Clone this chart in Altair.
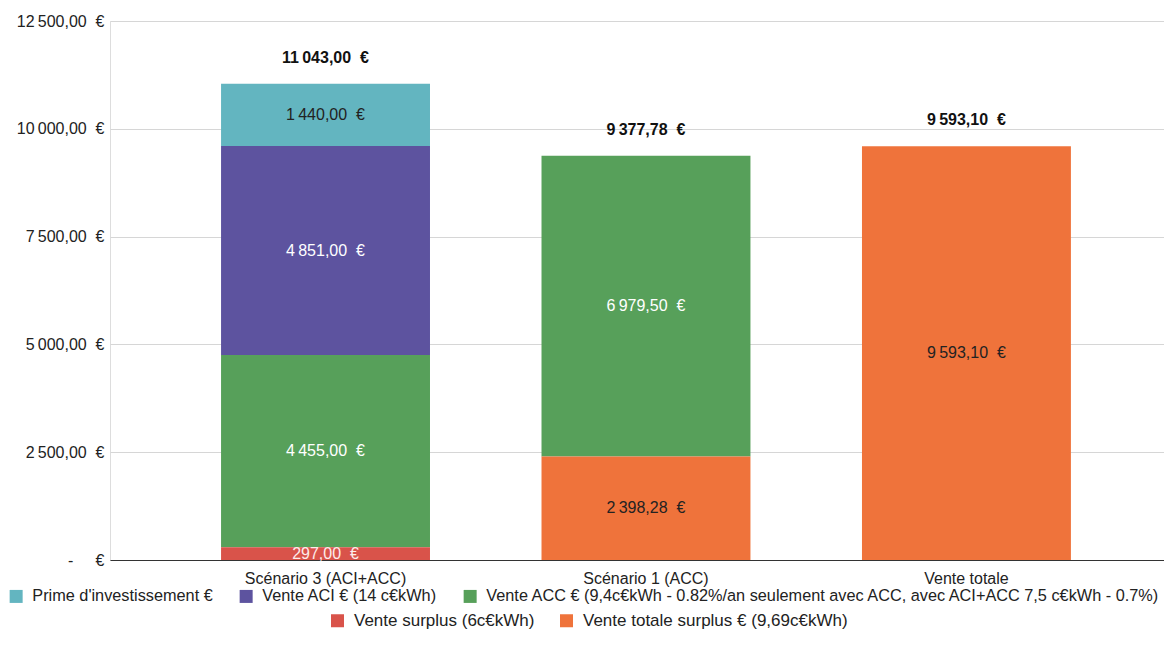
import altair as alt
import pandas as pd

scenarios = ["Scénario 3 (ACI+ACC)", "Scénario 1 (ACC)", "Vente totale"]
series = [
    "Prime d'investissement €",
    "Vente ACI € (14 c€kWh)",
    "Vente ACC € (9,4c€kWh - 0.82%/an seulement avec ACC, avec ACI+ACC 7,5 c€kWh - 0.7%)",
    "Vente surplus (6c€kWh)",
    "Vente totale surplus € (9,69c€kWh)",
]
colors = ["#63b5c0", "#5d539f", "#57a05a", "#d9534a", "#ef733b"]
label_colors = ["#222222", "#ffffff", "#ffffff", "#fdecea", "#222222"]

prime = [1440.00, None, None]
aci = [4851.00, None, None]
acc = [4455.00, 6979.50, None]
surplus = [297.00, None, None]
totale = [None, 2398.28, 9593.10]
y_ticks = [0, 2500, 5000, 7500, 10000, 12500]

FONT = "Liberation Sans"


def fmt(v):
    return f"{v:,.2f}".replace(",", "\u202f").replace(".", ",") + "\u00a0\u00a0€"


rows = []
for si, vals in enumerate([prime, aci, acc, surplus, totale]):
    for sc, v in zip(scenarios, vals):
        if v is None:
            continue
        rows.append({
            "scenario": sc,
            "series": series[si],
            "value": v,
            "rank": len(series) - si,
            "label": fmt(v),
            "tcolor": label_colors[si],
        })
df = pd.DataFrame(rows)

x_enc = alt.X(
    "scenario:N",
    sort=scenarios,
    title=None,
    scale=alt.Scale(paddingInner=0.348, paddingOuter=0.3185, align=0.544),
    axis=alt.Axis(labelAngle=0, labelFontSize=16, labelFont=FONT, labelColor="#222222",
                  domainColor="#333333", ticks=False, labelPadding=10),
)
y_scale = alt.Scale(domain=[0, 12500], nice=False)
y_axis = alt.Axis(
    values=y_ticks, title=None, domain=False, ticks=False, labelPadding=6,
    labelFontSize=16, labelFont=FONT, labelColor="#222222",
    gridColor="#d6d6d6",
    labelExpr="datum.value == 0 ? '-\u00a0\u00a0\u00a0\u00a0\u00a0€' : replace(replace(format(datum.value, ',.2f'), ',', '\u202f'), '.', ',') + '\u00a0\u00a0€'",
)

base = alt.Chart(df)

bars = base.mark_bar().encode(
    x=x_enc,
    y=alt.Y("value:Q", stack="zero", scale=y_scale, axis=y_axis),
    color=alt.Color("series:N", scale=alt.Scale(domain=series, range=colors), legend=None),
    order=alt.Order("rank:Q", sort="ascending"),
)

seg_text = base.transform_stack(
    stack="value", groupby=["scenario"], sort=[alt.SortField("rank", order="ascending")], as_=["y0", "y1"]
).transform_calculate(
    mid="(datum.y0 + datum.y1) / 2"
).mark_text(fontSize=16, font=FONT, baseline="middle").encode(
    x=alt.X("scenario:N", sort=scenarios),
    y=alt.Y("mid:Q"),
    text="label:N",
    color=alt.Color("tcolor:N", scale=None),
)

tot_text = base.transform_aggregate(
    total="sum(value)", groupby=["scenario"]
).transform_calculate(
    tlabel="replace(replace(format(datum.total, ',.2f'), ',', '\u202f'), '.', ',') + '\u00a0\u00a0€'"
).mark_text(fontSize=16, font=FONT, fontWeight="bold", baseline="middle", dy=-26, color="#111111").encode(
    x=alt.X("scenario:N", sort=scenarios),
    y=alt.Y("total:Q"),
    text="tlabel:N",
)

legend_common = dict(
    orient="none", direction="horizontal", title=None,
    labelFont=FONT, labelColor="#222222",
    symbolType="square", symbolSize=169, symbolStrokeWidth=0, symbolOpacity=1,
    labelOffset=8, labelLimit=1200, padding=0,
)

leg1 = base.transform_filter(
    alt.FieldOneOfPredicate(field="series", oneOf=series[:3])
).mark_bar(opacity=0).encode(
    x=alt.X("scenario:N", sort=scenarios),
    y=alt.Y("value:Q", stack=None),
    color=alt.Color("series:N", scale=alt.Scale(domain=series[:3], range=colors[:3]),
                    legend=alt.Legend(legendX=-102, legendY=567, labelFontSize=16.3,
                                      columnPadding=25, **legend_common)),
)
leg2 = base.transform_filter(
    alt.FieldOneOfPredicate(field="series", oneOf=series[3:])
).mark_bar(opacity=0).encode(
    x=alt.X("scenario:N", sort=scenarios),
    y=alt.Y("value:Q", stack=None),
    color=alt.Color("series:N", scale=alt.Scale(domain=series[3:], range=colors[3:]),
                    legend=alt.Legend(legendX=219, legendY=591, labelFontSize=17,
                                      columnPadding=23, **legend_common)),
)

chart = alt.layer(bars, seg_text, tot_text, leg1, leg2).resolve_scale(
    color="independent"
).resolve_legend(color="independent").properties(
    width=1054,
    height=539,
    autosize=alt.AutoSizeParams(type="none"),
    padding={"left": 102, "top": 13, "right": 0, "bottom": 85},
).configure_view(stroke=None).configure(background="white")

chart.save("out.html", embed_options={"renderer": "svg", "actions": False})
